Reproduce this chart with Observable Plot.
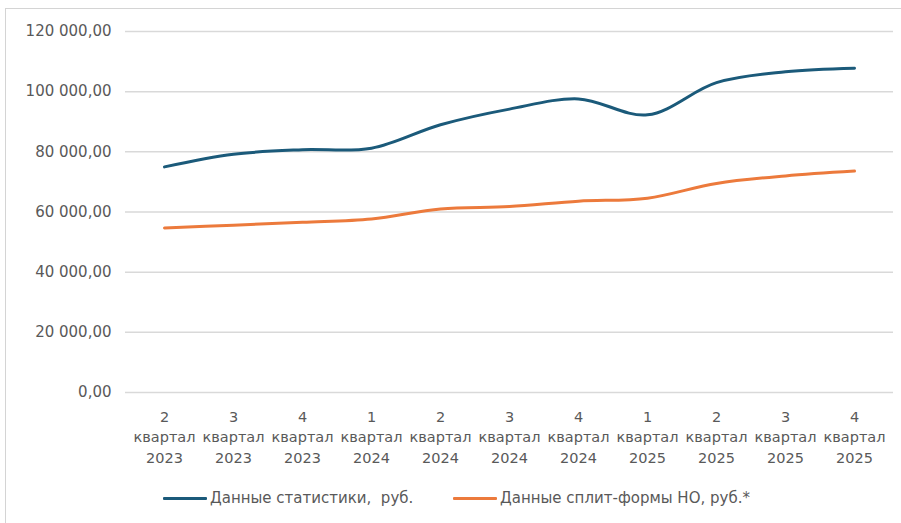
<!DOCTYPE html>
<html>
<head>
<meta charset="utf-8">
<script src="https://cdn.jsdelivr.net/npm/d3@7"></script>
<script src="https://cdn.jsdelivr.net/npm/@observablehq/plot@0.6"></script>
<style>
  html, body { margin: 0; padding: 0; background: #fff; }
  body { width: 901px; height: 523px; position: relative; overflow: hidden; font-family: "DejaVu Sans", Verdana, sans-serif; }
  #frame { position: absolute; left: 5px; top: 8px; right: 0; bottom: 0; border-left: 1px solid #d4d4d4; border-top: 1px solid #d4d4d4; }
  #chart { position: absolute; left: 0; top: 0; }
  #legend { position: absolute; left: 0; top: 488px; width: 901px; height: 20px; font-size: 15px; color: #595959; }
  .item { position: absolute; top: 0; display: flex; align-items: center; height: 20px; white-space: pre; }
  .sw { width: 44px; height: 3px; margin-right: 3px; border-radius: 1px; }
</style>
</head>
<body>
<div id="frame"></div>
<div id="chart"></div>
<div id="legend"></div>
<script>
const quarters = ["2", "3", "4", "1", "2", "3", "4", "1", "2", "3", "4"];
const years = ["2023", "2023", "2023", "2024", "2024", "2024", "2024", "2025", "2025", "2025", "2025"];
const statsValues = [75000, 79200, 80700, 81200, 89000, 94200, 97600, 92300, 103000, 106600, 107800];
const splitValues = [54700, 55600, 56600, 57700, 61000, 61800, 63600, 64600, 69500, 72000, 73600];
const seriesNames = ["Данные статистики,  руб.", "Данные сплит-формы НО, руб.*"];
const seriesColors = ["#1b5a7a", "#ec7a3c"];
const yTicks = [0, 20000, 40000, 60000, 80000, 100000, 120000];

const labels = quarters.map((q, i) => `${q}\nквартал\n${years[i]}`);
const data = [];
labels.forEach((l, i) => {
  data.push({x: l, y: statsValues[i], s: seriesNames[0]});
  data.push({x: l, y: splitValues[i], s: seriesNames[1]});
});

const ru = d3.formatLocale({decimal: ",", thousands: "\u00a0", grouping: [3], currency: ["", ""]});
const fmt = ru.format(",.2f");

const chart = Plot.plot({
  width: 901,
  height: 478,
  marginLeft: 125,
  marginRight: 8,
  marginTop: 31,
  marginBottom: 86,
  style: {fontFamily: '"DejaVu Sans", Verdana, sans-serif', fontSize: "14.5px", color: "#595959", background: "transparent"},
  x: {type: "point", domain: labels, padding: 0.5, label: null},
  y: {domain: [0, 120000], label: null},
  color: {domain: seriesNames, range: seriesColors},
  marks: [
    Plot.gridY(yTicks, {stroke: "#d9d9d9", strokeOpacity: 1, strokeWidth: 1.5}),
    Plot.axisY(yTicks, {tickSize: 0, tickPadding: 14, tickFormat: fmt, fontSize: 15, fill: "#595959", label: null}),
    Plot.axisX({tickSize: 0, tickPadding: 15, lineHeight: 1.4, fontSize: 14.5, fill: "#595959", label: null}),
    Plot.line(data, {x: "x", y: "y", z: "s", stroke: "s", strokeWidth: 3, curve: "catmull-rom"})
  ]
});
document.getElementById("chart").appendChild(chart);

const legend = document.getElementById("legend");
const lx = [163, 453];
seriesNames.forEach((n, i) => {
  const it = document.createElement("div");
  it.className = "item";
  it.style.left = lx[i] + "px";
  const sw = document.createElement("div");
  sw.className = "sw";
  sw.style.background = seriesColors[i];
  const t = document.createElement("span");
  t.textContent = n;
  it.appendChild(sw);
  it.appendChild(t);
  legend.appendChild(it);
});
</script>
</body>
</html>
